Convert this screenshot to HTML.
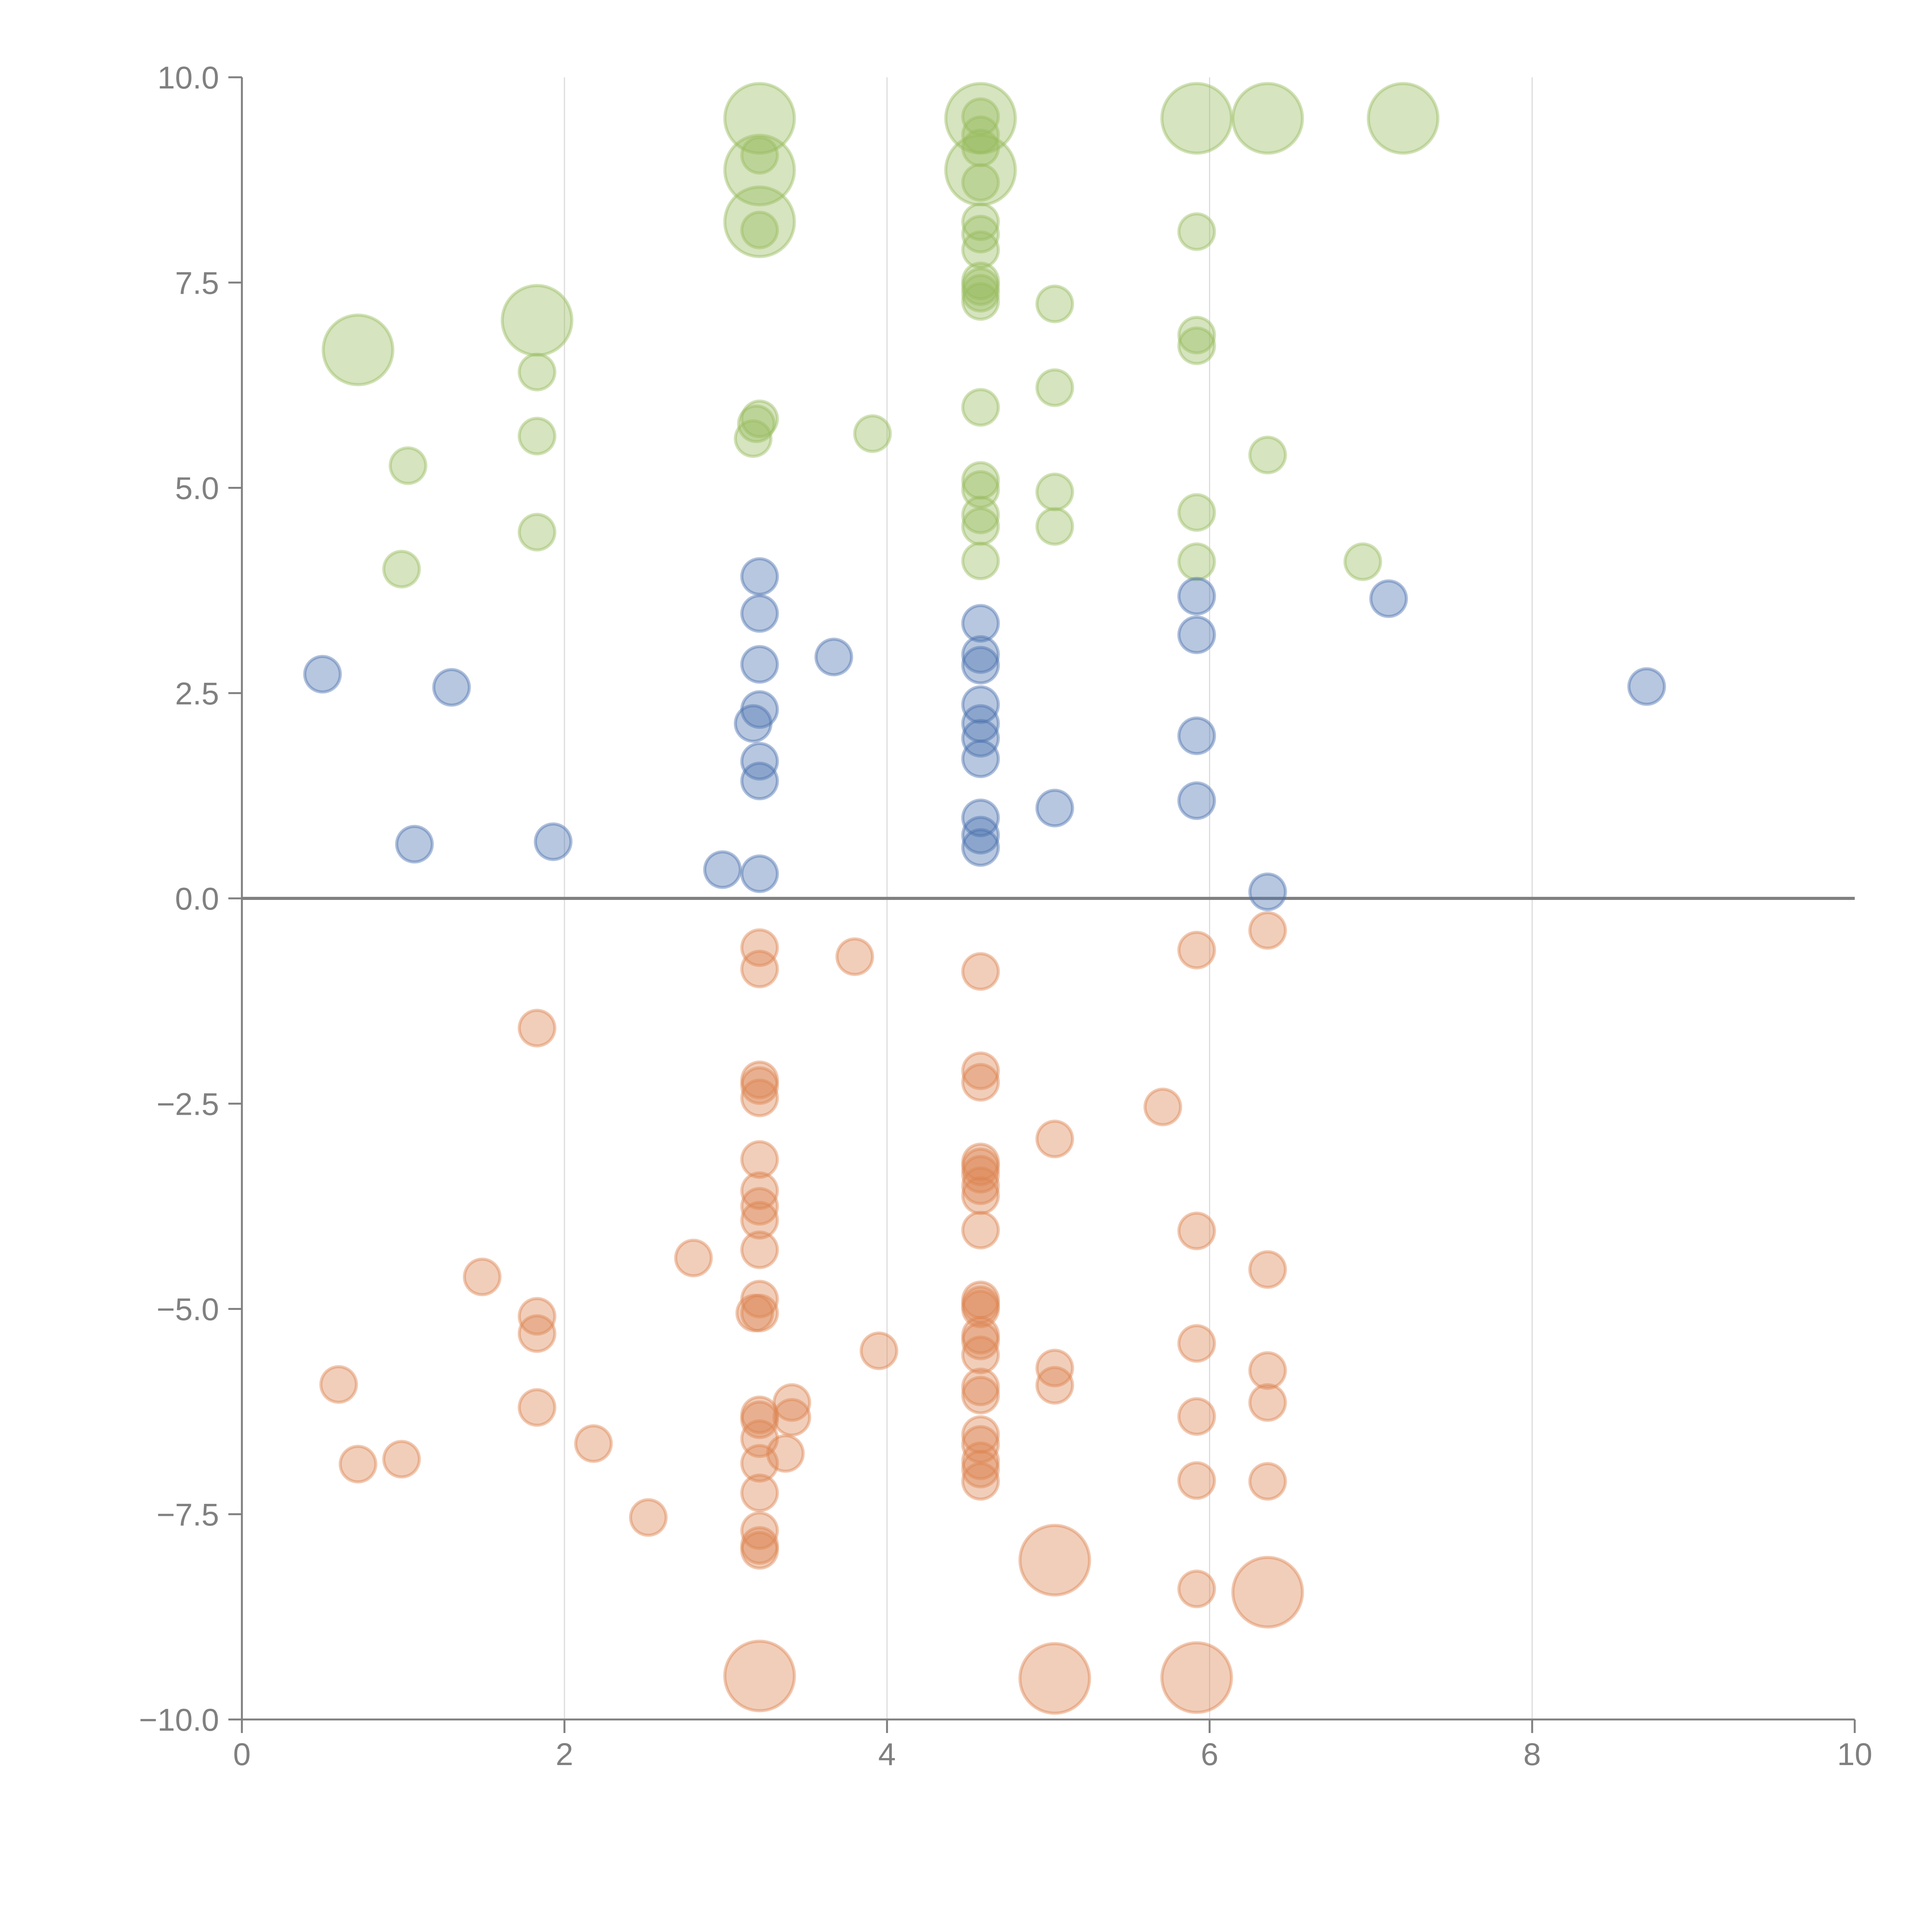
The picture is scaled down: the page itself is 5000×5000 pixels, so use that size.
<!DOCTYPE html>
<html><head><meta charset="utf-8"><style>
html,body{margin:0;padding:0;background:#fff;}
svg{display:block;font-family:"Liberation Sans",sans-serif;}
</style></head><body>
<svg id="chart" width="5000" height="5000" viewBox="0 0 5000 5000" xmlns="http://www.w3.org/2000/svg">
<g id="grid"></g>
<g id="axes"></g>
<g id="marks"></g>
</svg>
<script>
const xTicks=[0,2,4,6,8,10];
const xTickLabels=["0","2","4","6","8","10"];
const yTicks=[-10,-7.5,-5,-2.5,0,2.5,5,7.5,10];
const yTickLabels=["\u221210.0","\u22127.5","\u22125.0","\u22122.5","0.0","2.5","5.0","7.5","10.0"];

const greenX=[3.21,3.21,3.21,4.58,4.58,5.92,6.36,7.2,1.83,0.72,
3.21,3.21,3.21,3.19,3.17,
4.58,4.58,4.58,4.58,4.58,4.58,4.58,4.58,4.58,4.58,4.58,4.58,4.58,4.58,4.58,4.58,4.58,
5.04,5.04,5.04,5.04,5.92,5.92,5.92,5.92,5.92,6.36,6.95,3.91,1.83,1.83,1.83,1.03,0.99];
const greenY=[9.5,8.87,8.24,9.5,8.87,9.5,9.5,9.5,7.04,6.68,
9.05,8.14,5.84,5.78,5.6,
9.52,9.3,9.14,8.72,8.24,8.09,7.9,7.52,7.45,7.37,7.27,5.98,5.09,4.98,4.67,4.53,4.11,
7.24,6.22,4.95,4.53,8.12,6.86,6.73,4.7,4.1,5.4,4.1,5.66,6.41,5.63,4.46,5.27,4.01];
const greenSize=[2,2,2,2,2,2,2,2,2,2,1,1,1,1,1,1,1,1,1,1,1,1,1,1,1,1,1,1,1,1,1,1,1,1,1,1,1,1,1,1,1,1,1,1,1,1,1,1,1];

const blueX=[0.5,1.3,1.07,1.93,2.98,3.21,3.21,3.21,3.21,3.17,3.21,3.21,3.21,3.67,
4.58,4.58,4.58,4.58,4.58,4.58,4.58,4.58,4.58,4.58,5.04,5.92,5.92,5.92,5.92,6.36,7.11,8.71];
const blueY=[2.73,2.57,0.66,0.69,0.35,3.92,3.47,2.85,2.3,2.13,1.67,1.43,0.3,2.94,
3.35,2.97,2.84,2.36,2.13,1.95,1.7,0.98,0.77,0.62,1.1,3.68,3.21,1.98,1.19,0.08,3.65,2.58];
const blueSize=blueX.map(()=>1);

const orangeX=[3.21,5.04,5.92,5.04,6.36,
3.21,3.21,3.21,3.21,3.21,3.21,3.21,3.21,3.21,3.21,3.21,3.18,3.21,3.21,3.21,3.21,3.21,3.21,3.21,3.21,3.21,
3.41,3.41,3.37,3.8,3.95,2.8,2.52,2.18,1.83,1.83,1.83,1.83,1.49,0.6,0.72,0.99,
4.58,4.58,4.58,4.58,4.58,4.58,4.58,4.58,4.58,4.58,4.58,4.58,4.58,4.58,4.58,4.58,4.58,4.58,4.58,4.58,4.58,4.58,
5.04,5.04,5.04,5.71,5.92,5.92,5.92,5.92,5.92,5.92,6.36,6.36,6.36,6.36,6.36];
const orangeY=[-9.47,-9.5,-9.49,-8.06,-8.45,
-0.6,-0.86,-2.21,-2.28,-2.43,-3.18,-3.56,-3.75,-3.92,-4.28,-4.88,-5.05,-5.05,-6.29,-6.35,-6.58,-6.88,-7.24,-7.7,-7.88,-7.94,
-6.14,-6.32,-6.76,-0.71,-5.51,-4.38,-7.54,-6.64,-1.58,-5.09,-5.3,-6.2,-4.61,-5.92,-6.89,-6.83,
-0.89,-2.1,-2.24,-3.21,-3.27,-3.36,-3.5,-3.62,-4.04,-4.89,-4.95,-5.0,-5.32,-5.39,-5.56,-5.95,-6.05,-6.53,-6.65,-6.85,-6.95,-7.1,
-2.93,-5.72,-5.93,-2.54,-0.63,-4.05,-5.42,-6.31,-7.09,-8.41,-0.39,-4.52,-5.75,-6.14,-7.1];
const orangeSize=orangeX.map((_,i)=>i<5?2:1);
orangeSize[21]=1;

const NS="http://www.w3.org/2000/svg";
const X0=626,X1=4800,Y0=4450,Y1=200;
function sx(v){return X0+(v-0)/(10-0)*(X1-X0);}
function sy(v){return Y0-(v+10)/20*(Y0-Y1);}
function el(t,a,p){const e=document.createElementNS(NS,t);for(const k in a)e.setAttribute(k,a[k]);p.appendChild(e);return e;}
const grid=document.getElementById('grid'),axes=document.getElementById('axes'),marks=document.getElementById('marks');

xTicks.forEach((t,i)=>{
  if(t>0&&t<10){const g=el('line',{x1:sx(t),x2:sx(t),y1:Y1,y2:Y0,stroke:'#dcdcdc','stroke-width':3},grid);
  
  }
  const tk=el('line',{x1:sx(t),x2:sx(t),y1:Y0,y2:Y0+35,stroke:'#808080','stroke-width':5},axes);
  
  
  const tx=el('text',{x:sx(t),y:4568,'text-anchor':'middle','font-size':82,fill:'#808080'},axes);
  tx.textContent=xTickLabels[i];
  
  
});
yTicks.forEach((t,i)=>{
  const tk=el('line',{x1:X0-35,x2:X0,y1:sy(t),y2:sy(t),stroke:'#808080','stroke-width':5},axes);
  
  
  const tx=el('text',{x:567,y:sy(t)+29,'text-anchor':'end','font-size':82,fill:'#808080'},axes);
  tx.textContent=yTickLabels[i];
  
  
});
const ya=el('line',{x1:X0,x2:X0,y1:Y1,y2:Y0,stroke:'#808080','stroke-width':5},axes);


const xa=el('line',{x1:X0,x2:X1,y1:Y0,y2:Y0,stroke:'#808080','stroke-width':5},axes);



function draw(xs,ys,ss,rgb,name){
  xs.forEach((x,i)=>{
    const r=ss[i]===2?90:46;
    const c=el('circle',{cx:sx(x),cy:sy(ys[i]),r:r,fill:'rgba('+rgb+',0.4)',stroke:'rgba('+rgb+',0.45)','stroke-width':8},marks);
    
    
  });
}
draw(greenX,greenY,greenSize,'153,188,95','green-bubble');
draw(blueX,blueY,blueSize,'76,114,176','blue-bubble');
draw(orangeX,orangeY,orangeSize,'221,132,82','orange-bubble');

const zl=el('line',{x1:X0,x2:X1,y1:sy(0),y2:sy(0),stroke:'#808080','stroke-width':8},axes);


</script>
</body></html>
